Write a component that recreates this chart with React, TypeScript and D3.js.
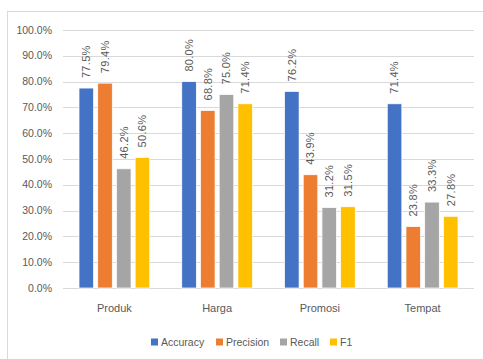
import React from "react";
import * as d3 from "d3";

const categories = ["Produk", "Harga", "Promosi", "Tempat"];
const seriesNames = ["Accuracy", "Precision", "Recall", "F1"];
const accuracy = [77.5, 80.0, 76.2, 71.4];
const precision = [79.4, 68.8, 43.9, 23.8];
const recall = [46.2, 75.0, 31.2, 33.3];
const f1 = [50.6, 71.4, 31.5, 27.8];
const yTicks = [0, 10, 20, 30, 40, 50, 60, 70, 80, 90, 100];
const colors = ["#4472C4", "#ED7D31", "#A5A5A5", "#FFC000"];

const seriesValues = [accuracy, precision, recall, f1];

export default function App() {
  const W = 483, H = 359;
  const left = 63, right = 474, top = 30, bottom = 288;
  const x0 = d3.scaleBand<string>().domain(categories).range([left, right]).paddingInner(0).paddingOuter(0);
  const x1 = d3.scaleBand<string>().domain(seriesNames).range([16, x0.bandwidth() - 16]).paddingInner(0.22).paddingOuter(0);
  const y = d3.scaleLinear().domain([0, 100]).range([bottom, top]);
  const font = "'Liberation Sans', Arial, sans-serif";
  const txt = "#595959";

  const legendX = [151, 216, 280, 330];

  return (
    <svg width={W} height={H} style={{ position: "absolute", left: 0, top: 0 }} fontFamily={font}>
      <rect x={0} y={0} width={W} height={H} fill="#fff" />
      <line x1={7.5} y1={11} x2={7.5} y2={H} stroke="#D9D9D9" />
      <line x1={7} y1={11.5} x2={W} y2={11.5} stroke="#D9D9D9" />
      {yTicks.map((t) => (
        <g key={t}>
          <line x1={left} x2={right} y1={Math.round(y(t)) + 0.5} y2={Math.round(y(t)) + 0.5} stroke="#D9D9D9" />
          <text x={52} y={y(t)} dy="0.35em" textAnchor="end" fontSize={10.5} fill={txt}>
            {t.toFixed(1)}%
          </text>
        </g>
      ))}
      {categories.map((c, ci) => (
        <g key={c} transform={`translate(${x0(c)},0)`}>
          {seriesNames.map((s, si) => {
            const v = seriesValues[si][ci];
            const bx = x1(s)!;
            const bw = x1.bandwidth();
            const cx = bx + bw / 2;
            const ty = y(v) - 10;
            return (
              <g key={s}>
                <rect x={bx} y={y(v)} width={bw} height={bottom - y(v)} fill={colors[si]} stroke="#fff" strokeWidth={0.75} />
                <text
                  transform={`translate(${cx},${ty}) rotate(-90)`}
                  dy="0.35em"
                  fontSize={11}
                  letterSpacing={0.3}
                  fill={txt}
                  textAnchor="start"
                >
                  {v.toFixed(1)}%
                </text>
              </g>
            );
          })}
          <text x={x0.bandwidth() / 2} y={308} dy="0.35em" textAnchor="middle" fontSize={11} fill={txt}>
            {c}
          </text>
        </g>
      ))}
      {seriesNames.map((s, i) => (
        <g key={s} transform={`translate(${legendX[i]},342)`}>
          <rect x={0} y={-3.5} width={7} height={7} fill={colors[i]} />
          <text x={10} y={0} dy="0.35em" fontSize={10.5} fill={txt}>
            {s}
          </text>
        </g>
      ))}
    </svg>
  );
}
